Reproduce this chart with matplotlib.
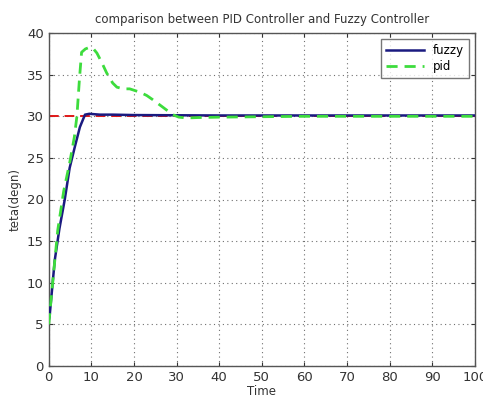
"""Step response comparison: PID vs fuzzy controller."""

import matplotlib
matplotlib.use("Agg")
import matplotlib.pyplot as plt
import numpy as np

# fuzzy controller response
fuzzy_t = [0, 0.2, 1.4, 2.5, 3.75, 4.9, 6.1, 7.3, 8.5, 9.5, 12, 15, 20, 40, 60, 80, 100]
fuzzy_y = [5.5, 6.0, 12.7, 16.5, 20.0, 23.8, 26.3, 28.7, 30.2, 30.3, 30.2, 30.2, 30.15, 30.1, 30.1, 30.1, 30.1]

# PID controller response
pid_t = [0, 1.0, 2.1, 3.5, 4.9, 6.0, 6.6, 7.2, 7.7, 8.6, 9.6, 10.5, 11.3, 12.5, 13.6, 15.0, 16.0,
         17.5, 19.0, 20.2, 21.4, 23.0, 24.4, 26.5, 29.1, 30.5, 32.4, 35, 40, 50, 60, 80, 100]
pid_y = [5.0, 10.5, 16.3, 21.0, 24.4, 27.5, 30.0, 34.5, 37.7, 38.1, 38.3, 38.1, 37.6, 36.4, 35.2, 34.0, 33.5,
         33.3, 33.3, 33.1, 32.9, 32.5, 32.0, 31.2, 30.2, 29.9, 29.8, 29.85, 29.9, 29.95, 30.0, 30.0, 30.0]

# set point
ref_t = [0, 100]
ref_y = [30, 30]

fig = plt.figure(figsize=(4.83, 3.99), dpi=100)
ax = fig.add_axes([0.101, 0.083, 0.882, 0.834])

ax.plot(ref_t, ref_y, color="#e01818", linestyle=(0, (5, 3)), linewidth=1.4, zorder=2)
ax.plot(fuzzy_t, fuzzy_y, color="#1a1a80", linewidth=1.8, label="fuzzy", zorder=3)
ax.plot(pid_t, pid_y, color="#3ddc3d", linestyle=(0, (4, 2.5)), linewidth=2.0, label="pid", zorder=4)

ax.set_xlim(0, 100)
ax.set_ylim(0, 40)
ax.set_xticks(np.arange(0, 101, 10))
ax.set_yticks(np.arange(0, 41, 5))
ax.grid(True, color="#707070", linestyle=(0, (1, 3)), linewidth=0.8)
ax.tick_params(direction="in", labelsize=9.5, length=3, top=True, right=True, colors="#333333")
for s in ax.spines.values():
    s.set_color("#555555")
    s.set_linewidth(1.0)

ax.set_title("comparison between PID Controller and Fuzzy Controller", fontsize=8.5, color="#333333", pad=7)
ax.set_xlabel("Time", fontsize=8.5, color="#333333", labelpad=1)
ax.set_ylabel("teta(degn)", fontsize=8.5, color="#333333", labelpad=4)

leg = ax.legend(loc="upper right", fontsize=8.5, frameon=True, fancybox=False,
                handlelength=3.2, borderpad=0.4, labelspacing=0.3, borderaxespad=0.5)
leg.get_frame().set_edgecolor("#555555")
leg.get_frame().set_linewidth(1.0)

fig.savefig("out.png", dpi=100)
